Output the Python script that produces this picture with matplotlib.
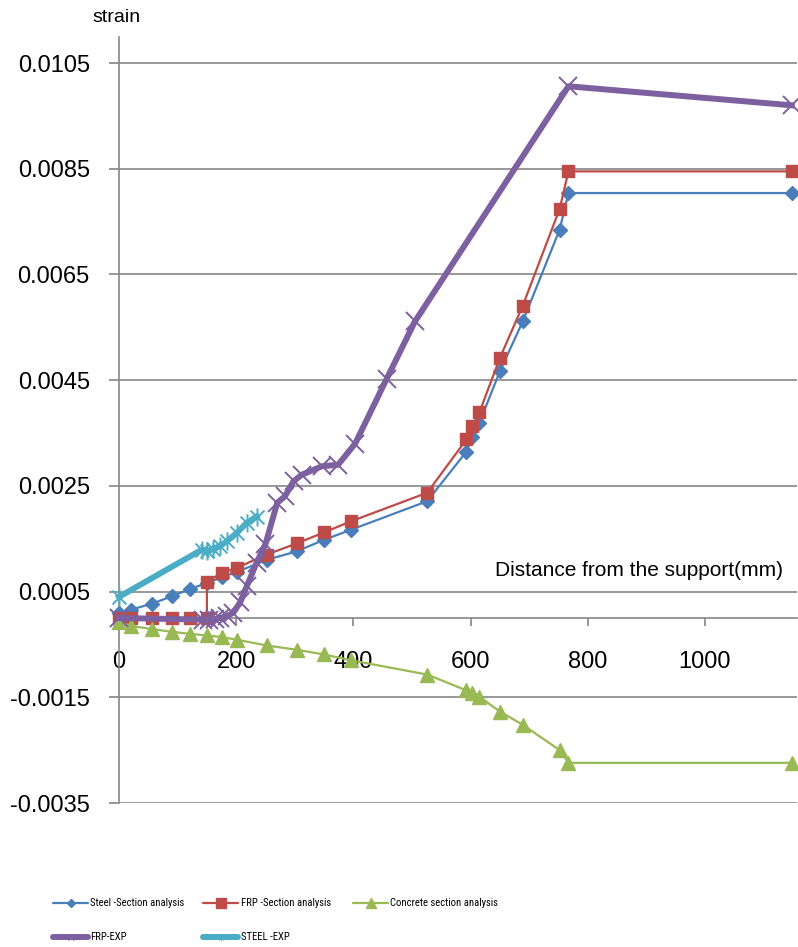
import matplotlib
matplotlib.use('Agg')
import matplotlib.pyplot as plt
from matplotlib.lines import Line2D
from matplotlib.path import Path
from matplotlib import font_manager

# ---------------- data ----------------
x_sec = [0, 21, 56, 90, 121, 150, 175, 201, 252, 303, 350, 396, 526, 593, 603, 615, 650, 689, 752, 767, 1148]
steel_sec = [0.0001, 0.00016, 0.00027, 0.00041, 0.00055, 0.00066, 0.00077, 0.00087, 0.0011, 0.00126, 0.00148,
             0.00167, 0.00221, 0.00315, 0.00343, 0.00369, 0.00467, 0.00561, 0.00735, 0.00804, 0.00804]
concrete_sec = [-0.00008, -0.00015, -0.00021, -0.00026, -0.0003, -0.00033, -0.00036, -0.00041, -0.00052, -0.0006,
                -0.00069, -0.0008, -0.00107, -0.00137, -0.00141, -0.00149, -0.00177, -0.00202, -0.0025, -0.00274,
                -0.00274]

x_frp_sec = [0, 21, 56, 90, 121, 150, 150, 175, 201, 252, 303, 350, 396, 526, 593, 603, 615, 650, 689, 752, 767, 1148]
frp_sec = [0, 0, 0, 0, 0, 0, 0.00069, 0.00085, 0.00095, 0.0012, 0.00141, 0.00162, 0.00183, 0.00237, 0.00338,
           0.00363, 0.00389, 0.00492, 0.00591, 0.00774, 0.00845, 0.00845]

x_frp_exp = [0, 143, 153, 163, 173, 185, 195, 207, 218, 235, 250, 270, 283, 298, 312, 346, 374, 403, 457, 505, 767, 1148]
frp_exp = [0, -0.00003, -0.00003, -0.00002, 0, 0.00004, 0.0001, 0.0003, 0.0006, 0.00105, 0.0014, 0.00218, 0.0023,
           0.00259, 0.00271, 0.00287, 0.0029, 0.0033, 0.00453, 0.00561, 0.01006, 0.0097]

x_steel_exp = [0, 141, 150, 161, 172, 184, 201, 218, 235]
steel_exp = [0.0004, 0.00129, 0.00126, 0.00131, 0.00136, 0.00145, 0.00161, 0.0018, 0.00192]

y_ticks = [-0.0035, -0.0015, 0.0005, 0.0025, 0.0045, 0.0065, 0.0085, 0.0105]
x_ticks = [0, 200, 400, 600, 800, 1000]

labels = ['Steel -Section analysis', 'FRP -Section analysis', 'Concrete section analysis', 'FRP-EXP', 'STEEL -EXP']
colors = ['#4A7EBB', '#BE4B48', '#98B954', '#7D60A0', '#4BACC6']

# ---------------- figure ----------------
W, H = 798, 947
fig = plt.figure(figsize=(W / 100, H / 100), dpi=100)
FONT = ['Liberation Sans', 'DejaVu Sans']
plt.rcParams['font.family'] = FONT

ax_left, ax_right, ax_top, ax_bot = 119, 797, 36.6, 803
ax = fig.add_axes([ax_left / W, 1 - ax_bot / H, (ax_right - ax_left) / W, (ax_bot - ax_top) / H])
ax.set_xlim(0, 1157)
ax.set_ylim(-0.0035, 0.011)

grid_c = '#868686'
for s in ['top', 'right']:
    ax.spines[s].set_visible(False)
ax.spines['left'].set_position(('data', 0))
ax.spines['bottom'].set_position(('data', 0))
for s in ['left', 'bottom']:
    ax.spines[s].set_color(grid_c)
    ax.spines[s].set_linewidth(1.2)
    ax.spines[s].set_zorder(1)

ax.set_yticks(y_ticks)
ax.set_yticklabels([f'{v:.4f}' for v in y_ticks])
ax.set_xticks(x_ticks)
ax.set_xticklabels([str(v) for v in x_ticks])
ax.yaxis.grid(True, color=grid_c, linewidth=1.2, zorder=0)
ax.set_axisbelow(True)
ax.tick_params(axis='y', direction='out', length=7, width=1.2, color=grid_c, pad=14, labelsize=17)
ax.tick_params(axis='x', direction='out', length=6, width=1.2, color=grid_c, pad=18, labelsize=17)

star = Path([(-1, -1), (1, 1), (-1, 1), (1, -1), (0, -1.3), (0, 1.3)],
            [Path.MOVETO, Path.LINETO, Path.MOVETO, Path.LINETO, Path.MOVETO, Path.LINETO])

ax.plot(x_sec, steel_sec, color=colors[0], lw=1.6, marker='D', ms=7, mec=colors[0], mfc=colors[0],
        clip_on=False, zorder=3)
ax.plot(x_frp_sec, frp_sec, color=colors[1], lw=1.6, marker='s', ms=9, mec=colors[1], mfc=colors[1],
        clip_on=False, zorder=4)
ax.plot(x_sec, concrete_sec, color=colors[2], lw=1.6, marker='^', ms=9.5, mec=colors[2], mfc=colors[2],
        clip_on=False, zorder=5)
ax.plot(x_frp_exp, frp_exp, color=colors[3], lw=4.3, marker='x', ms=13, mew=1.4, mec=colors[3],
        clip_on=False, zorder=6)
ax.plot(x_steel_exp, steel_exp, color=colors[4], lw=4.3, marker=star, ms=13, mew=1.4, mec=colors[4],
        clip_on=False, zorder=7)

ax.set_xlabel('Distance from the support(mm)', fontsize=15, ha='left', va='center')
ax.xaxis.set_label_coords((495 - ax_left) / (ax_right - ax_left), (ax_bot - 571) / (ax_bot - ax_top))
ax.set_ylabel('strain', fontsize=14, rotation=0, ha='center', va='center')
ax.yaxis.set_label_coords((116 - ax_left) / (ax_right - ax_left), (ax_bot - 17) / (ax_bot - ax_top))

# ---------------- legend (manual layout) ----------------
available = {f.name for f in font_manager.fontManager.ttflist}
leg_family = ['Liberation Sans', 'DejaVu Sans']
for cand in ['Liberation Sans Narrow', 'Roboto Condensed', 'Open Sans Condensed', 'DejaVu Sans Condensed']:
    if cand in available:
        leg_family = [cand, 'DejaVu Sans']
        break

entries = [
    (0, 'D', 4.5, 1.6, 53, 902.7),
    (1, 's', 7, 1.6, 203, 902.7),
    (2, '^', 7, 1.6, 353, 902.7),
    (3, 'x', 5, 4.3, 53, 937.3),
    (4, star, 5, 4.3, 203, 937.3),
]
renderer = fig.canvas.get_renderer()
probe = fig.text(0, 0, labels[0], family=leg_family, fontsize=10)
w10 = probe.get_window_extent(renderer).width
probe.remove()
leg_size = min(10.0 * 94.0 / w10, 10.5)

for idx, mk, ms, lw, xs, yc in entries:
    x0, x1 = xs, xs + 35
    ln = Line2D([x0 / W, x1 / W], [1 - yc / H, 1 - yc / H], transform=fig.transFigure,
                color=colors[idx], lw=lw, solid_capstyle='round')
    fig.add_artist(ln)
    mkl = Line2D([(x0 + x1) / 2 / W], [1 - yc / H], transform=fig.transFigure, color=colors[idx],
                 marker=mk, ms=ms, mfc=colors[idx], mec=colors[idx], mew=1.0, lw=0)
    fig.add_artist(mkl)
    fig.text((x1 + 2.5) / W, 1 - yc / H, labels[idx], family=leg_family, fontsize=leg_size,
             ha='left', va='center', color='black')

fig.savefig('out.png', dpi=100, facecolor='white')
